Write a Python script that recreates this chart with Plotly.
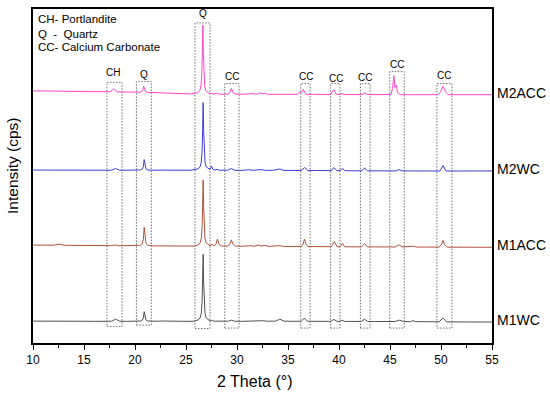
import plotly.graph_objects as go

# ---------------- data (2 Theta in degrees, intensity in cps) ----------------
series_names = ["M1WC", "M1ACC", "M2WC", "M2ACC"]
series_colors = ["#505050", "#b0503a", "#3c3cd2", "#ff44cc"]
series_offsets = [215, 970, 1735, 2500]

tt_M1WC = [10, 11, 12, 12.6, 13, 14, 15, 16, 17, 17.7, 18.1, 18.5, 19.2, 20, 20.55, 20.72, 20.82, 20.9, 20.98,
           21.08, 21.25, 21.6, 22.3, 22.8, 23.5, 24.3, 25, 25.8, 26.18, 26.38, 26.5, 26.58, 26.63, 26.68, 26.73,
           26.78, 26.86, 26.98, 27.18, 27.35, 27.5, 27.8, 28.5, 29.15, 29.45, 29.75, 30.5, 31.2, 31.6, 32.0, 32.5,
           33.0, 33.8, 34.2, 34.6, 35.5, 36.3, 36.6, 36.9, 37.5, 38.5, 39.2, 39.5, 39.8, 40.1, 40.3, 40.55, 41.2,
           42.2, 42.5, 42.8, 43.5, 44.5, 45.5, 45.9, 46.3, 47.0, 47.25, 47.5, 48.5, 49.8, 50.2, 50.55, 51.5, 52.5,
           53.5, 54.5, 55]
I_M1WC = [5, 6, 4, 8, 4, 3, 4, 3, 3, 4, 25, 4, 3, 3, 6, 15, 38, 100, 38,
          15, 6, 4, 4, 6, 3, 5, 3, 4, 17, 37, 84, 206, 408, 678, 408,
          206, 84, 37, 17, 8, 12, 4, 5, 4, 15, 4, 3, 5, 8, 4, 9,
          4, 5, 25, 5, 3, 4, 35, 4, 3, 3, 3, 22, 3, 3, 15, 2, 2,
          2, 25, 2, 1, 0, 1, 15, 1, 0, 10, 0, -1, -2, 35, -2, -3, -3,
          -4, -4, -4]

tt_M1ACC = [10, 11, 12, 12.6, 13, 14, 15, 16, 17, 17.7, 18.05, 18.4, 19, 20, 20.55, 20.72, 20.82, 20.9, 20.98,
            21.08, 21.25, 21.6, 22.3, 23, 24, 25, 25.8, 26.18, 26.38, 26.5, 26.58, 26.63, 26.68, 26.73, 26.78,
            26.86, 26.98, 27.18, 27.35, 27.55, 27.75, 27.92, 28.08, 28.25, 28.5, 29.1, 29.3, 29.45, 29.6, 29.85,
            30.5, 31.3, 31.7, 32.15, 32.4, 32.7, 33.1, 34.2, 34.6, 35.5, 36.3, 36.48, 36.62, 36.76, 36.95, 37.5,
            38.5, 39.25, 39.55, 39.8, 40.1, 40.33, 40.55, 41.2, 42.2, 42.52, 42.8, 43.5, 44.5, 45.5, 45.88, 46.2,
            47.3, 47.6, 48.5, 49.8, 50.05, 50.2, 50.35, 50.6, 51.5, 52.5, 53.5, 54.5, 55]
I_M1ACC = [15, 15, 14, 24, 14, 12, 11, 11, 10, 9, 17, 9, 9, 8, 14, 31, 74, 195, 74,
           31, 14, 8, 7, 8, 6, 5, 5, 17, 37, 84, 204, 404, 670, 404, 204,
           84, 37, 17, 8, 22, 8, 20, 75, 20, 5, 6, 25, 67, 25, 5,
           3, 9, 3, 16, 5, 13, 2, 9, 1, 1, 1, 25, 76, 25, 0, 0,
           -1, -1, 50, -1, -2, 33, -2, -2, -3, 30, -3, -3, -4, -4, 18, -4,
           4, -5, -5, -6, 20, 62, 20, -6, -6, -7, -7, -7, -7]

tt_M2WC = [10, 11, 12, 12.6, 13, 14, 15, 16, 17, 17.7, 18.1, 18.5, 19.2, 20, 20.55, 20.72, 20.82, 20.9, 20.98,
           21.08, 21.25, 21.6, 22.5, 23.5, 24.5, 25.5, 26.18, 26.38, 26.5, 26.58, 26.63, 26.68, 26.73, 26.78,
           26.86, 26.98, 27.18, 27.35, 27.5, 27.65, 27.85, 28.05, 28.3, 29.1, 29.45, 29.8, 30.5, 31.2, 31.6, 32.3,
           32.8, 33.5, 34.2, 34.6, 35.5, 36.3, 36.63, 36.95, 37.8, 38.8, 39.25, 39.5, 39.8, 40.1, 40.33, 40.6,
           41.5, 42.25, 42.52, 42.8, 43.8, 44.8, 45.6, 45.88, 46.2, 47.3, 48.5, 49.9, 50.2, 50.5, 51.5, 52.5,
           53.5, 54.5, 55]
I_M2WC = [5, 5, 4, 7, 4, 4, 4, 3, 3, 3, 20, 3, 3, 3, 6, 16, 41, 110, 41,
          16, 6, 3, 4, 3, 4, 3, 17, 37, 85, 207, 411, 683, 411, 207,
          85, 37, 17, 10, 45, 10, 6, 12, 3, 3, 20, 2, 2, 8, 2, 10,
          2, 2, 15, 1, 1, 0, 30, 0, 0, -1, -1, 30, -1, -2, 20, -2,
          -2, -3, 25, -3, -3, -4, -4, 10, -4, -4, -4, -5, 50, -5, -5, -5,
          -5, -5, -4]

tt_M2ACC = [10, 11, 12, 12.5, 12.8, 14, 15, 16, 17, 17.6, 17.9, 18.2, 19, 20, 20.5, 20.68, 20.78, 20.85, 20.92,
            21.02, 21.2, 21.6, 22.5, 23.5, 24.5, 25.5, 26.15, 26.35, 26.47, 26.55, 26.6, 26.65, 26.7, 26.75,
            26.83, 26.95, 27.15, 27.35, 27.5, 27.7, 28.0, 28.3, 29.1, 29.3, 29.45, 29.6, 29.9, 30.6, 31.5, 31.9,
            32.3, 32.45, 32.65, 33, 34, 35, 35.9, 36.15, 36.3, 36.5, 36.75, 37.5, 38.5, 39.2, 39.48, 39.75, 40.1,
            40.3, 40.5, 41.5, 42.25, 42.52, 42.8, 43.8, 44.8, 45.1, 45.25, 45.38, 45.48, 45.6, 45.75, 46.0, 47,
            48, 49.7, 49.95, 50.2, 50.45, 50.7, 51.5, 52.5, 53.5, 54.5, 55]
I_M2ACC = [37, 37, 36, 37, 31, 30, 30, 29, 28, 28, 58, 27, 25, 23, 23, 32, 50, 83, 50,
           32, 22, 21, 16, 11, 8, 5, 18, 38, 87, 213, 420, 697, 420, 213,
           87, 38, 18, 6, 12, 4, 12, 3, 3, 20, 60, 20, 3, 2, 9, 2,
           16, 8, 14, 2, 2, 1, 1, 25, 12, 52, 1, 1, 0, 0, 50, 0, 0,
           10, 0, -1, -1, 16, -1, -1, -1, 0, 60, 190, 70, 95, 20, -1, -2,
           -2, -2, 25, 82, 25, -2, -2, -2, -3, -3, -2]

series_tt = [tt_M1WC, tt_M1ACC, tt_M2WC, tt_M2ACC]
series_I = [I_M1WC, I_M1ACC, I_M2WC, I_M2ACC]

# phase-marker boxes (2 Theta span, intensity span) and their labels
box_lo = [17.25, 20.14, 25.88, 28.8, 36.25, 39.18, 42.1, 44.98, 49.6]
box_hi = [18.73, 21.6, 27.36, 30.2, 37.17, 40.1, 43.05, 46.4, 51.07]
box_top = [2623, 2630, 3220, 2610, 2610, 2610, 2610, 2730, 2610]
box_bottom = [165, 180, 145, 150, 150, 150, 150, 150, 150]
box_labels = ["CH", "Q", "Q", "CC", "CC", "CC", "CC", "CC", "CC"]
label_tt = [17.88, 20.88, 26.67, 29.55, 36.74, 39.68, 42.52, 45.72, 50.3]
label_I = [2717, 2703, 3310, 2680, 2677, 2663, 2670, 2803, 2690]

key_lines = ["CH- Portlandite", "Q\u00a0 -\u00a0 Quartz", "CC- Calcium Carbonate"]
x_ticks = [10, 15, 20, 25, 30, 35, 40, 45, 50, 55]

FONT = "Liberation Sans, Arial, sans-serif"

fig = go.Figure()
for name, color, off, tt, I in zip(series_names, series_colors, series_offsets, series_tt, series_I):
    fig.add_trace(go.Scatter(x=tt, y=[v + off for v in I], mode="lines", name=name,
                             line=dict(color=color, width=1), showlegend=False,
                             hoverinfo="skip"))

for lo, hi, top, bot in zip(box_lo, box_hi, box_top, box_bottom):
    fig.add_shape(type="rect", xref="x", yref="y", x0=lo, x1=hi, y0=bot, y1=top,
                  line=dict(color="#707070", width=1, dash="1.5px,1.5px"), layer="below")

for txt, x, y in zip(box_labels, label_tt, label_I):
    fig.add_annotation(x=x, y=y, xref="x", yref="y", text=txt, showarrow=False,
                       font=dict(family=FONT, size=10, color="black"), xanchor="center", yanchor="middle")

for name, off, I in zip(series_names, series_offsets, series_I):
    fig.add_annotation(x=1, y=off + I[-1], xref="paper", yref="y", text=name, showarrow=False,
                       xanchor="left", yanchor="middle", xshift=3, yshift=2,
                       font=dict(family=FONT, size=14, color="black"))

for i, line in enumerate(key_lines):
    fig.add_annotation(x=0.006, y=[0.969, 0.926, 0.887][i], xref="paper", yref="paper", text=line,
                       showarrow=False, xanchor="left", yanchor="middle",
                       font=dict(family=FONT, size=11.5, color="black"))

fig.add_annotation(x=0.482, y=-0.115, xref="paper", yref="paper", text="2 Theta (\u00b0)", showarrow=False,
                   xanchor="center", yanchor="middle", font=dict(family=FONT, size=16, color="black"))
fig.add_annotation(x=-0.0436, y=0.53, xref="paper", yref="paper", text="Intensity (cps)", showarrow=False,
                   textangle=-90, xanchor="center", yanchor="middle",
                   font=dict(family=FONT, size=15.5, color="black"))

fig.update_layout(
    width=550, height=395,
    margin=dict(l=33, r=58, t=7, b=52),
    paper_bgcolor="white", plot_bgcolor="white",
    xaxis=dict(range=[10, 55], tickvals=x_ticks, ticks="outside", ticklen=5, tickwidth=1.2,
               tickcolor="black", showline=True, linecolor="black", linewidth=1.5, mirror=True,
               showgrid=False, zeroline=False,
               tickfont=dict(family=FONT, size=12, color="black"),
               minor=dict(dtick=2.5, tick0=10, ticks="outside", ticklen=3, tickwidth=1.2,
                          tickcolor="black", showgrid=False)),
    yaxis=dict(range=[0, 3360], showticklabels=False, ticks="", showline=True, linecolor="black",
               linewidth=1.5, mirror=True, showgrid=False, zeroline=False),
)

fig.write_html("out.html", config={"displayModeBar": False},
               post_script="document.body.style.margin='0';document.body.style.padding='0';"
                           "document.documentElement.style.overflow='hidden';")
